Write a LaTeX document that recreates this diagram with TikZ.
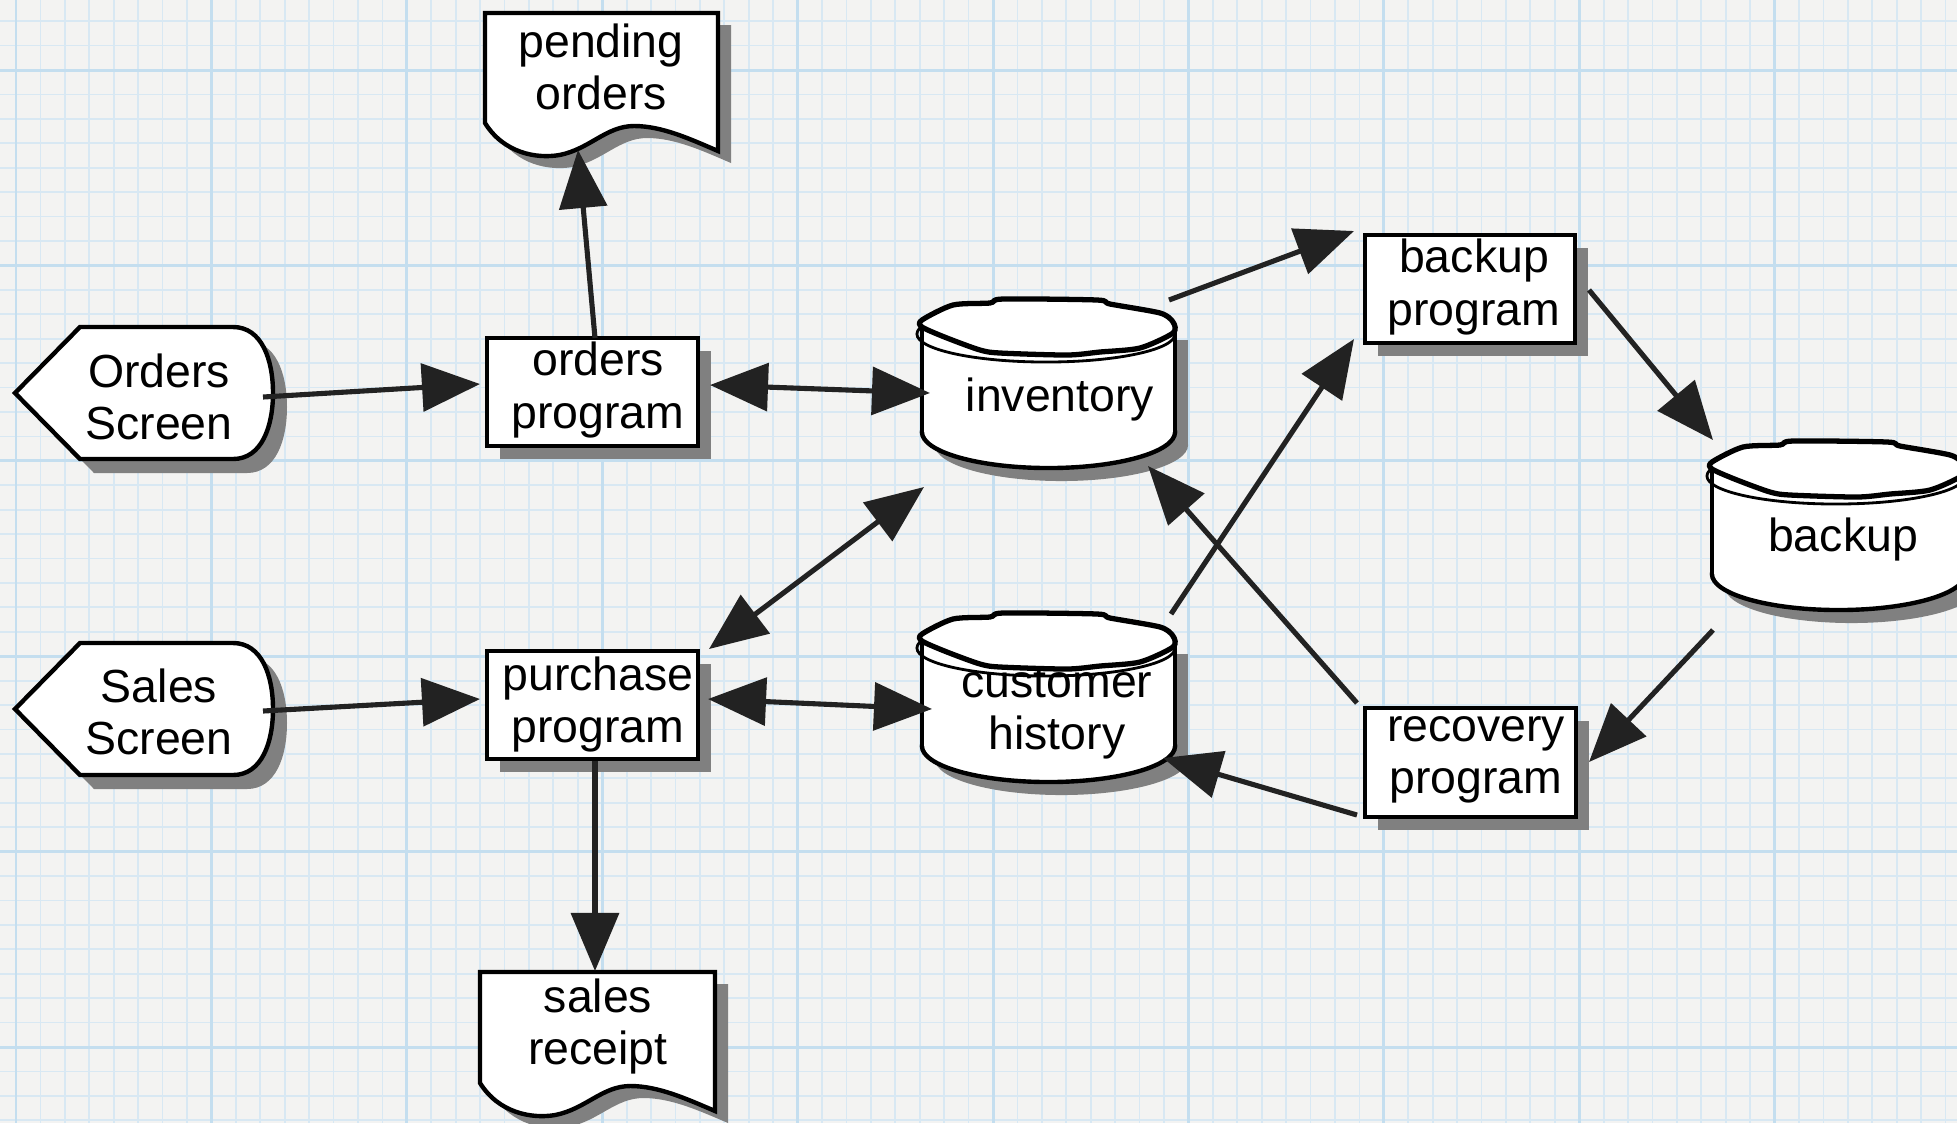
\documentclass[tikz,border=0pt]{standalone}
\usepackage{fontspec}
\setmainfont{Liberation Sans}
\usetikzlibrary{arrows.meta}
\definecolor{paper}{RGB}{243,243,242}
\definecolor{gridminor}{RGB}{216,232,243}
\definecolor{gridmajor}{RGB}{196,222,239}
\definecolor{shade}{RGB}{128,128,128}
\definecolor{ink}{RGB}{34,34,34}
\tikzset{
  shp/.style={draw=black, fill=white, line width=1.25pt},
  shd/.style={fill=shade},
  lbl/.style={inner sep=0pt, align=center, font=\fontsize{13.2pt}{14.8pt}\selectfont},
  bigtri/.tip={Triangle[length=16.5pt,width=13.5pt]},
  flow/.style={draw=ink, line width=1.45pt, -bigtri},
  flowboth/.style={draw=ink, line width=1.45pt, bigtri-bigtri},
}
% data store: cylinder with a hand-drawn lid, top lid centre at (#1,#2)
\newcommand\dbcyl[2]{%
  \begin{scope}[shift={(#1,#2)}]
    \fill[shd] (13.5,118) ellipse [x radius=1.265cm, y radius=0.36cm];
    \fill[shd] (-113,13) rectangle (140,118);
    \draw[shp] (0.5,105) ellipse [x radius=1.265cm, y radius=0.36cm];
    \fill[white] (-126,0) rectangle (127,105);
    \draw[black, line width=1.25pt] (-126,0) -- (-126,105) (127,2) -- (127,105);
    \draw[black, line width=0.8pt] (-2,7) ellipse [x radius=1.29cm, y radius=0.28cm];
    \draw[black, fill=white, line width=1.5pt, line join=round]
      plot[smooth cycle, tension=0.45] coordinates {
        (-126,-7) (-95,-22) (-58,-24) (-45,-28) (49,-27) (62,-23) (112,-14)
        (125,-5) (125,6) (92,21) (52,25) (19,28) (-48,26) (-68,23) (-101,11) (-126,0)};
  \end{scope}}
% document: top-left (#1,#2), width #3, left side height #4
\newcommand\docshape[4]{%
  \begin{scope}[shift={(#1,#2)}]
    \fill[shd, shift={(13,12)}] (0,0) -- (#3,0) -- (#3,{#4+28})
      .. controls ({0.88*#3},{#4+16}) and ({0.76*#3},{#4+3}) .. ({0.64*#3},{#4+3})
      .. controls ({0.52*#3},{#4+3}) and ({0.45*#3},{#4+26}) .. ({0.32*#3},{#4+32})
      .. controls ({0.22*#3},{#4+36}) and ({0.08*#3},{#4+30}) .. (0,#4) -- cycle;
    \draw[shp] (0,0) -- (#3,0) -- (#3,{#4+28})
      .. controls ({0.88*#3},{#4+16}) and ({0.76*#3},{#4+3}) .. ({0.64*#3},{#4+3})
      .. controls ({0.52*#3},{#4+3}) and ({0.45*#3},{#4+26}) .. ({0.32*#3},{#4+32})
      .. controls ({0.22*#3},{#4+36}) and ({0.08*#3},{#4+30}) .. (0,#4) -- cycle;
  \end{scope}}
% display: left point at (#1,#2)
\newcommand\dispshape[2]{%
  \begin{scope}[shift={(#1,#2)}]
    \fill[shd, shift={(14,14)}] (0,0) -- (65,-66) -- (218,-66)
      .. controls (247,-66) and (258,-33) .. (258,0)
      .. controls (258,33) and (247,66) .. (218,66) -- (65,66) -- cycle;
    \draw[shp] (0,0) -- (65,-66) -- (218,-66)
      .. controls (247,-66) and (258,-33) .. (258,0)
      .. controls (258,33) and (247,66) .. (218,66) -- (65,66) -- cycle;
  \end{scope}}
\begin{document}
\begin{tikzpicture}[x=0.01cm, y=-0.01cm]
\useasboundingbox (0,0) rectangle (1957,1123);
\clip (0,0) rectangle (1957,1123);
\fill[paper] (0,0) rectangle (1957,1123);
% graph paper
\foreach \i in {0,...,80} \draw[gridminor, line width=0.5pt] ({16+24.425*\i},0) -- ({16+24.425*\i},1123);
\foreach \j in {-2,...,43} \draw[gridminor, line width=0.5pt] (0,{70+24.425*\j}) -- (1957,{70+24.425*\j});
\foreach \k in {0,...,10} \draw[gridmajor, line width=0.85pt] ({16+195.4*\k},0) -- ({16+195.4*\k},1123);
\foreach \k in {0,...,5} \draw[gridmajor, line width=0.85pt] (0,{70+195.4*\k}) -- (1957,{70+195.4*\k});

% displays
\dispshape{15}{393}
\dispshape{15}{709}
% programs
\fill[shd] (500,351) rectangle (711,459); \draw[shp] (487,338) rectangle (698,446);
\fill[shd] (500,664) rectangle (711,772); \draw[shp] (487,651) rectangle (698,759);
\fill[shd] (1378,248) rectangle (1588,356); \draw[shp] (1365,235) rectangle (1575,343);
\fill[shd] (1378,721) rectangle (1589,830); \draw[shp] (1365,708) rectangle (1576,817);
% documents
\docshape{485}{13}{233}{110}
\docshape{480}{972}{235}{111}
% data stores
\dbcyl{1048}{327}
\dbcyl{1048}{641}
\dbcyl{1838}{469}

% labels
\node[lbl] (os) at (159,397) {Orders\\Screen};
\node[lbl] (ss) at (159,712) {Sales\\Screen};
\node[lbl] (op) at (598,390) {orders\\program};
\node[lbl] (pp) at (598,704) {purchase\\program};
\node[lbl] (pend) at (601,67) {pending\\orders};
\node[lbl] (rcpt) at (598,1026) {sales\\receipt};
\node[lbl] (inv) at (1060,399) {inventory};
\node[lbl] (cust) at (1057,713) {customer\\history};
\node[lbl] (bp) at (1474,287) {backup\\program};
\node[lbl] (rp) at (1476,760) {recovery\\program};
\node[lbl] (bak) at (1843,539) {backup};

% data flows
\draw[flow] ([shift={(-3,-52)}]op.center) -- ([shift={(-23,83)}]pend.center);
\draw[flow] ([shift={(104,0)}]os.center) -- ([shift={(-118,-6)}]op.center);
\draw[flowboth] ([shift={(112,-5)}]op.center) -- ([shift={(-130,-6)}]inv.center);
\draw[flowboth] ([shift={(111,-55)}]pp.center) -- ([shift={(-136,88)}]inv.center);
\draw[flow] ([shift={(104,-1)}]ss.center) -- ([shift={(-118,-5)}]pp.center);
\draw[flowboth] ([shift={(110,-5)}]pp.center) -- ([shift={(-125,-4)}]cust.center);
\draw[flow] ([shift={(-3,57)}]pp.center) -- ([shift={(-3,-55)}]rcpt.center);
\draw[flow] ([shift={(109,-99)}]inv.center) -- ([shift={(-120,-56)}]bp.center);
\draw[flow] ([shift={(114,-99)}]cust.center) -- ([shift={(-120,52)}]bp.center);
\draw[flow] ([shift={(-119,-57)}]rp.center) -- ([shift={(88,67)}]inv.center);
\draw[flow] ([shift={(-119,55)}]rp.center) -- ([shift={(106,45)}]cust.center);
\draw[flow] ([shift={(115,3)}]bp.center) -- ([shift={(-130,-99)}]bak.center);
\draw[flow] ([shift={(-130,91)}]bak.center) -- ([shift={(113,2)}]rp.center);
\end{tikzpicture}
\end{document}
